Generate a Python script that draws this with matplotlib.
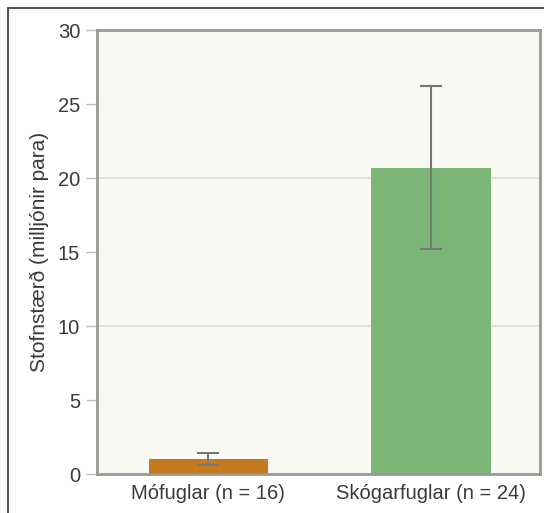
import matplotlib.pyplot as plt
import matplotlib.patches as mpatches

# gögn
flokkar = ['Mófuglar (n = 16)', 'Skógarfuglar (n = 24)']
stofnstaerd = [1.0, 20.7]
skekkja = [0.4, 5.5]
litir = ['#c57a1f', '#7bb677']

plt.rcParams['font.family'] = ['Liberation Sans', 'DejaVu Sans']

fig = plt.figure(figsize=(5.44, 5.13), dpi=100)
ax = fig.add_axes([0.178, 0.076, 0.815, 0.8655])

# rammi utan um myndina (efri og vinstri brún)
fig.patches.append(mpatches.Rectangle((8 / 544, -0.1), 1.2, 1 - 8 / 513 + 0.1,
                                      transform=fig.transFigure, fill=False,
                                      edgecolor='#555555', linewidth=1.5))

ax.set_facecolor('#f9f9f4')
x = range(len(flokkar))
ax.bar(x, stofnstaerd, width=0.535, color=litir, zorder=2)
ax.errorbar(x, stofnstaerd, yerr=skekkja, fmt='none', ecolor='#777777',
            elinewidth=1.5, capsize=8, capthick=1.5, zorder=3)

ax.set_xlim(-0.5, 1.49)
ax.set_ylim(0, 30)
ax.set_yticks([0, 5, 10, 15, 20, 25, 30])
ax.set_xticks(list(x))
ax.set_xticklabels(flokkar)
# línur aðeins við 10 og 20
for g in [10, 20]:
    ax.axhline(g, color='#dddddd', linewidth=1.2, zorder=1)

for s in ax.spines.values():
    s.set_color('#999999')
    s.set_linewidth(2)

ax.tick_params(axis='y', length=8, width=1, color='#bbbbbb', labelsize=14.5,
               labelcolor='#3a3a3a', pad=4)
ax.tick_params(axis='x', length=0, labelsize=14.5, labelcolor='#3a3a3a', pad=7)
ax.set_ylabel('Stofnstærð (milljónir para)', fontsize=15, color='#3a3a3a',
              labelpad=6)

fig.savefig('out.png', dpi=100)
